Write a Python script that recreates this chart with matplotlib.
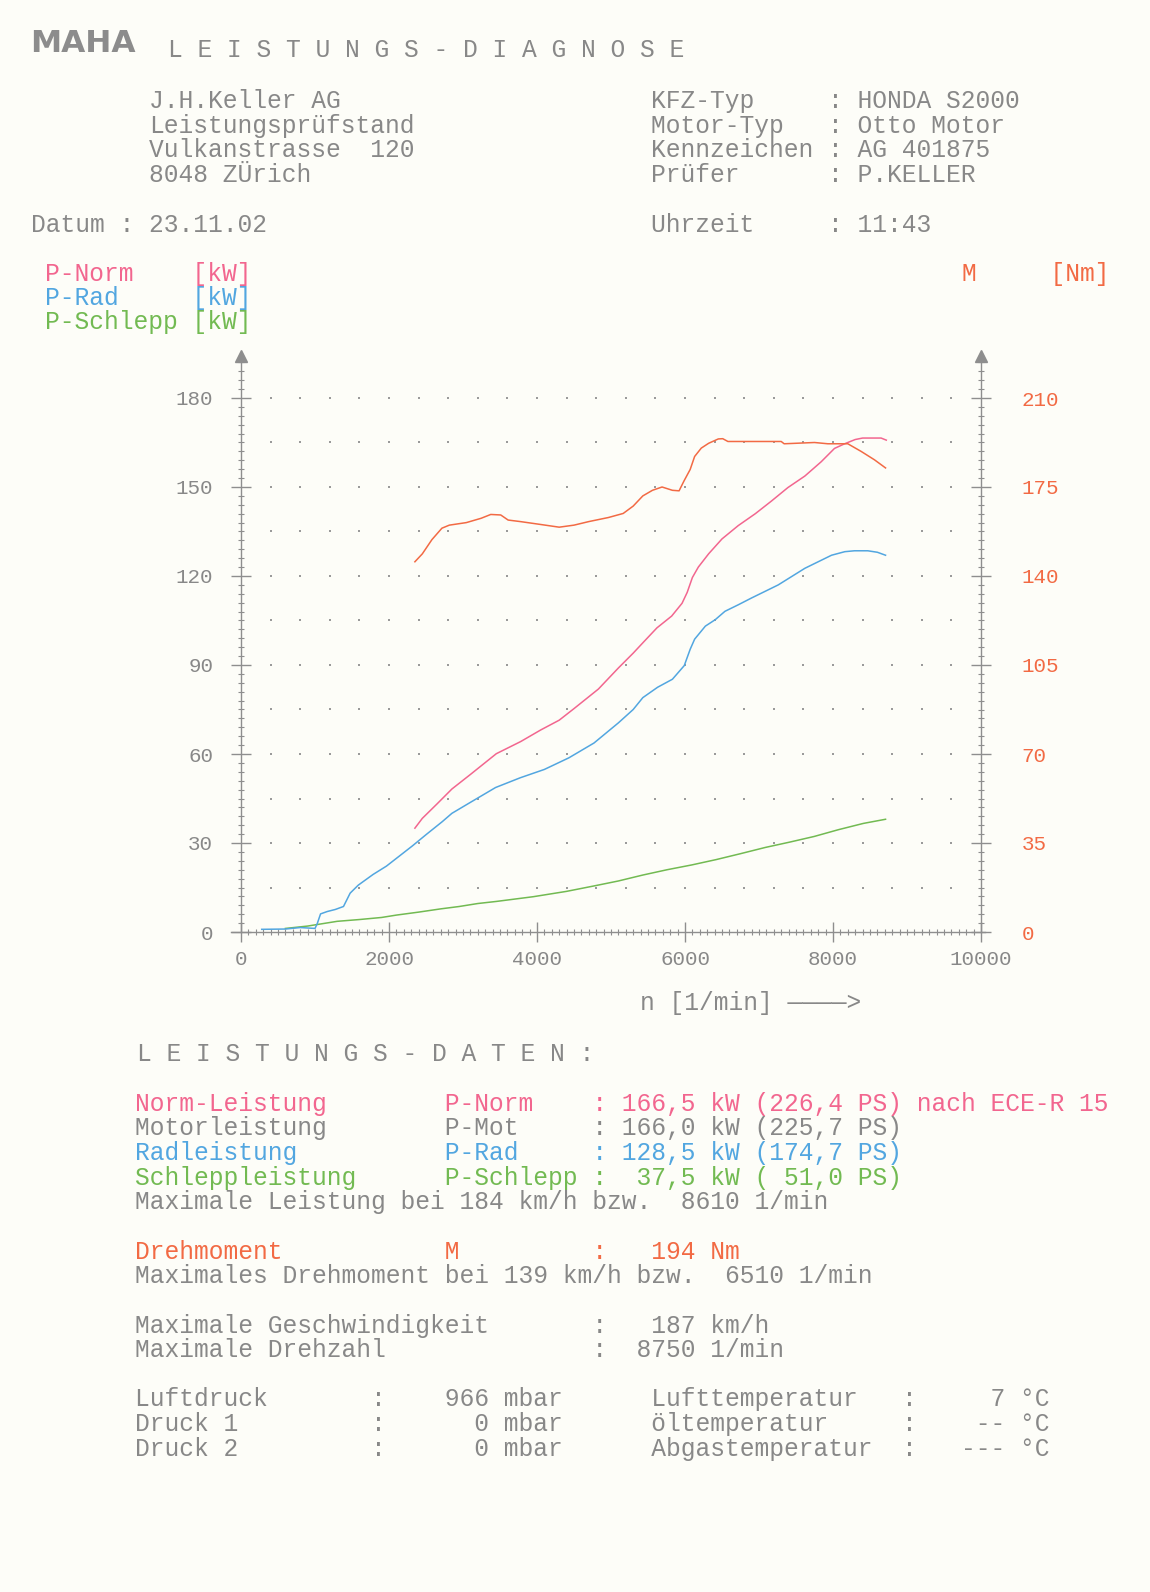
import numpy as np
import matplotlib
matplotlib.use('Agg')
import matplotlib.pyplot as plt
from matplotlib.ticker import FixedLocator

# --- values ---
rpm_norm = [2350, 2450, 2650, 2850, 3100, 3450, 3780, 4050, 4300, 4500, 4830, 5100,
            5300, 5450, 5620, 5820, 5960, 6030, 6100, 6180, 6320, 6500, 6720, 6950,
            7170, 7390, 7620, 7840, 8020, 8160, 8300, 8400, 8650, 8720]
p_norm = [35.0, 38.3, 43.2, 48.2, 53.1, 60.1, 64.2, 68.1, 71.4, 75.3, 81.9, 89.0,
          94.0, 98.0, 102.5, 106.5, 110.8, 114.5, 119.5, 123.0, 127.5, 132.5, 137.0, 141.0,
          145.3, 149.8, 153.7, 158.5, 163.0, 164.6, 166.0, 166.5, 166.5, 165.8]

rpm_rad = [280, 600, 800, 1000, 1030, 1075, 1165, 1275, 1385, 1475, 1585, 1785, 1965,
           2140, 2320, 2500, 2720, 2850, 3100, 3440, 3775, 4100, 4430, 4770, 5100, 5300,
           5430, 5630, 5830, 5990, 6070, 6130, 6275, 6410, 6540, 6720, 6900, 7080, 7260,
           7440, 7620, 7800, 7980, 8160, 8290, 8470, 8600, 8710]
p_rad = [0.9, 1.0, 1.5, 1.2, 2.8, 6.1, 6.9, 7.6, 8.6, 13.1, 15.8, 19.4, 22.2,
         25.6, 29.1, 32.8, 37.2, 40.0, 43.7, 48.7, 52.0, 54.8, 58.7, 63.7, 70.5, 75.0,
         79.0, 82.5, 85.2, 89.8, 95.3, 98.7, 103.1, 105.3, 108.1, 110.3, 112.6, 114.8, 117.0,
         119.8, 122.6, 124.8, 127.0, 128.2, 128.5, 128.5, 128.0, 127.0]

rpm_schlepp = [600, 900, 1100, 1300, 1600, 1900, 2100, 2400, 2700, 2950, 3200, 3450,
               3700, 3950, 4150, 4400, 4765, 5100, 5430, 5760, 6090, 6420, 6750, 7085,
               7415, 7745, 8075, 8410, 8710]
p_schlepp = [1.2, 2.0, 2.8, 3.6, 4.2, 4.9, 5.7, 6.7, 7.8, 8.6, 9.6, 10.3,
             11.1, 11.9, 12.7, 13.7, 15.5, 17.2, 19.2, 21.0, 22.6, 24.4, 26.4, 28.5,
             30.3, 32.2, 34.5, 36.6, 38.0]

rpm_m = [2350, 2450, 2580, 2715, 2815, 3045, 3245, 3375, 3510, 3610, 3775, 4040, 4300,
         4500, 4700, 4965, 5165, 5300, 5430, 5560, 5690, 5830, 5920, 5985, 6070, 6130,
         6220, 6320, 6450, 6510, 6580, 7300, 7340, 7750, 7930, 8200, 8380, 8560, 8710]
m_nm = [145.6, 148.7, 154.3, 158.8, 160.0, 161.0, 162.7, 164.2, 164.0, 162.0, 161.4, 160.3, 159.2,
        160.0, 161.4, 163.0, 164.6, 167.5, 171.5, 173.7, 175.0, 173.7, 173.5, 177.3, 181.9, 187.0,
        190.3, 192.2, 193.9, 194.0, 192.9, 192.9, 192.0, 192.5, 192.0, 192.0, 189.0, 185.7, 182.5]

kw_ticks = [0, 30, 60, 90, 120, 150, 180]
nm_ticks = [0, 35, 70, 105, 140, 175, 210]
rpm_ticks = [0, 2000, 4000, 6000, 8000, 10000]

# --- colours / fonts ---
PAPER = '#fdfdf8'
GREY = '#888888'
AXC = '#8e8e8e'
PINK = '#f2668f'
BLUE = '#52a6e0'
GREEN = '#72ba52'
ORANGE = '#f26a44'
MONO = ['Liberation Mono', 'DejaVu Sans Mono']
FS = 17.7

W, H = 1150, 1592
fig = plt.figure(figsize=(11.5, 15.92), dpi=100, facecolor=PAPER)


def txt(x, y, s, color=GREY, size=FS, **kw):
    fig.text(x / W, 1 - y / H, s, color=color, fontsize=size, family=MONO,
             va='center', ha='left', **kw)


# header
fig.text(30 / W, 1 - 44 / H, 'MAHA', color='#8c8c8c', fontsize=22.5, fontweight='bold',
         family=['DejaVu Sans'], va='center', ha='left')
txt(168, 50, 'L E I S T U N G S - D I A G N O S E')

txt(149, 101, 'J.H.Keller AG')
txt(149, 126, 'Leistungsprüfstand')
txt(149, 150, 'Vulkanstrasse  120')
txt(149, 175, '8048 ZÜrich')

txt(651, 101, 'KFZ-Typ     : HONDA S2000')
txt(651, 126, 'Motor-Typ   : Otto Motor')
txt(651, 150, 'Kennzeichen : AG 401875')
txt(651, 175, 'Prüfer      : P.KELLER')

txt(31, 225, 'Datum : 23.11.02')
txt(651, 225, 'Uhrzeit     : 11:43')

txt(45, 274, 'P-Norm    [kW]', PINK)
txt(45, 298, 'P-Rad     [kW]', BLUE)
txt(45, 322, 'P-Schlepp [kW]', GREEN)
txt(962, 274, 'M     [Nm]', ORANGE)

# --- chart ---
x0, x1 = -200, 10200
y0, y1 = -5, 200
px_rpm = 740 / 10000
px_kw = 534 / 180
left = 241 + x0 * px_rpm
bottom = 932 - y0 * px_kw
top = 932 - y1 * px_kw
ax = fig.add_axes([left / W, 1 - bottom / H, (x1 - x0) * px_rpm / W, (bottom - top) / H])
ax.set_facecolor('none')
ax.set_xlim(x0, x1)
ax.set_ylim(y0, y1)

ax2 = ax.twinx()
ax2.set_facecolor('none')
ax2.set_ylim(y0 * 7 / 6, y1 * 7 / 6)

for s in ['top', 'right']:
    ax.spines[s].set_visible(False)
for s in ['top', 'left', 'bottom']:
    ax2.spines[s].set_visible(False)
ax.spines['left'].set_position(('data', 0))
ax.spines['bottom'].set_position(('data', 0))
ax2.spines['right'].set_position(('data', 10000))
ax.spines['left'].set_bounds(0, 194)
ax.spines['bottom'].set_bounds(-130, 10060)
ax2.spines['right'].set_bounds(0, 194 * 7 / 6)
for sp in [ax.spines['left'], ax.spines['bottom'], ax2.spines['right']]:
    sp.set_color(AXC)
    sp.set_linewidth(1.0)

ax.set_xticks(rpm_ticks)
ax.set_xticklabels([str(v) for v in rpm_ticks])
ax.set_yticks(kw_ticks)
ax.set_yticklabels([str(v) for v in kw_ticks])
ax2.set_yticks(nm_ticks)
ax2.set_yticklabels([str(v) for v in nm_ticks])

ax.xaxis.set_minor_locator(FixedLocator(np.arange(0, 10001, 100)))
ax.yaxis.set_minor_locator(FixedLocator(np.arange(0, 195, 3)))
ax2.yaxis.set_minor_locator(FixedLocator(np.arange(0, 226, 3.5)))

ax.tick_params(axis='both', which='major', direction='inout', length=14, width=1,
               color=AXC, labelcolor=GREY, labelsize=15, labelfontfamily=MONO)
ax.tick_params(axis='y', which='major', pad=13)
ax.tick_params(axis='x', which='major', pad=6)
ax.tick_params(axis='both', which='minor', direction='inout', length=4, width=0.8, color=AXC)
ax2.tick_params(axis='y', which='major', direction='inout', length=14, width=1,
                color=AXC, labelcolor=ORANGE, labelsize=15, labelfontfamily=MONO, pad=22)
ax2.tick_params(axis='y', which='minor', direction='inout', length=4, width=0.8, color=AXC)

# dotted grid
gx, gy = np.meshgrid(np.arange(400, 10000, 400), np.arange(15, 181, 15))
ax.scatter(gx.ravel(), gy.ravel(), s=1.6, color='#9a9a9a', marker='s', linewidths=0)

# axis arrow heads
ax.plot([0, 10000], [194, 194], linestyle='none', marker='^', ms=8, color=AXC, clip_on=False)

# curves
ax.plot(rpm_schlepp, p_schlepp, color=GREEN, lw=1.1)
ax.plot(rpm_rad, p_rad, color=BLUE, lw=1.1)
ax.plot(rpm_norm, p_norm, color=PINK, lw=1.1)
ax2.plot(rpm_m, m_nm, color=ORANGE, lw=1.1)

txt(640, 1003, 'n [1/min] ————>')

# --- data block ---
txt(137, 1054, 'L E I S T U N G S - D A T E N :')
txt(135, 1104, 'Norm-Leistung        P-Norm    : 166,5 kW (226,4 PS) nach ECE-R 15', PINK)
txt(135, 1128, 'Motorleistung        P-Mot     : 166,0 kW (225,7 PS)')
txt(135, 1153, 'Radleistung          P-Rad     : 128,5 kW (174,7 PS)', BLUE)
txt(135, 1178, 'Schleppleistung      P-Schlepp :  37,5 kW ( 51,0 PS)', GREEN)
txt(135, 1202, 'Maximale Leistung bei 184 km/h bzw.  8610 1/min')

txt(135, 1252, 'Drehmoment           M         :   194 Nm', ORANGE)
txt(135, 1276, 'Maximales Drehmoment bei 139 km/h bzw.  6510 1/min')

txt(135, 1326, 'Maximale Geschwindigkeit       :   187 km/h')
txt(135, 1350, 'Maximale Drehzahl              :  8750 1/min')

txt(135, 1399, 'Luftdruck       :    966 mbar      Lufttemperatur   :     7 °C')
txt(135, 1424, 'Druck 1         :      0 mbar      öltemperatur     :    -- °C')
txt(135, 1449, 'Druck 2         :      0 mbar      Abgastemperatur  :   --- °C')

fig.savefig('out.png', dpi=100, facecolor=PAPER)
